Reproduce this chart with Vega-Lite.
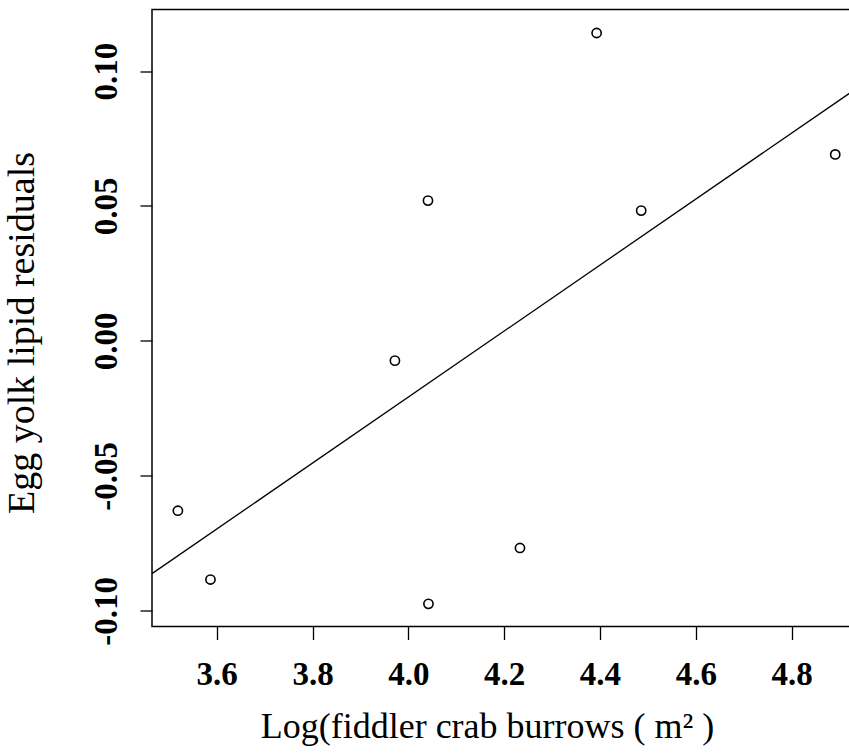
{
  "$schema": "https://vega.github.io/schema/vega-lite/v6.json",
  "autosize": {"type": "none"},
  "padding": {"left": 152, "top": 9.5, "right": 0, "bottom": 126.5},
  "width": 700,
  "height": 617,
  "background": "white",
  "config": {
    "view": {"stroke": "black", "strokeWidth": 1.5},
    "font": "Liberation Serif"
  },
  "datasets": {
    "pts": [
      {"burrows": 3.519, "resid": -0.0629},
      {"burrows": 3.587, "resid": -0.0884},
      {"burrows": 3.972, "resid": -0.0073},
      {"burrows": 4.041, "resid": 0.0520},
      {"burrows": 4.042, "resid": -0.0974},
      {"burrows": 4.233, "resid": -0.0767},
      {"burrows": 4.393, "resid": 0.1141},
      {"burrows": 4.486, "resid": 0.0483},
      {"burrows": 4.891, "resid": 0.0691}
    ],
    "fit": [
      {"burrows": 3.465, "resid": -0.0862},
      {"burrows": 4.926, "resid": 0.0924}
    ]
  },
  "layer": [
    {
      "data": {"name": "fit"},
      "mark": {"type": "line", "color": "black", "strokeWidth": 1.3, "clip": true},
      "encoding": {
        "x": {"field": "burrows", "type": "quantitative"},
        "y": {"field": "resid", "type": "quantitative"}
      }
    },
    {
      "data": {"name": "pts"},
      "mark": {"type": "point", "shape": "circle", "filled": false, "color": "black", "size": 85, "strokeWidth": 1.6, "opacity": 1},
      "encoding": {
        "x": {
          "field": "burrows", "type": "quantitative",
          "scale": {"domain": [3.465, 4.926], "nice": false, "zero": false},
          "axis": {
            "title": "Log(fiddler crab burrows ( m² )",
            "values": [3.6, 3.8, 4.0, 4.2, 4.4, 4.6, 4.8],
            "format": ".1f",
            "grid": false,
            "domain": false,
            "tickColor": "black", "tickSize": 13, "tickWidth": 1.3,
            "labelFont": "Liberation Serif", "labelFontSize": 33, "labelFontWeight": "bold",
            "labelColor": "black", "labelBaseline": "alphabetic", "labelPadding": 45,
            "labelAlign": "center", "labelFlush": false, "labelOverlap": false,
            "titleFont": "Liberation Serif", "titleFontSize": 36, "titleFontWeight": "normal",
            "titleColor": "black", "titleBaseline": "alphabetic", "titleAlign": "center",
            "titleX": 335, "titleY": 110.5
          }
        },
        "y": {
          "field": "resid", "type": "quantitative",
          "scale": {"domain": [-0.1058, 0.1228], "nice": false, "zero": false},
          "axis": {
            "title": "Egg yolk lipid residuals",
            "values": [-0.1, -0.05, 0, 0.05, 0.1],
            "labelExpr": "datum.value < 0 ? '-' + format(-datum.value, '.2f') : format(datum.value, '.2f')",
            "grid": false,
            "domain": false,
            "tickColor": "black", "tickSize": 12, "tickWidth": 1.3,
            "labelFont": "Liberation Serif", "labelFontSize": 33, "labelFontWeight": "bold",
            "labelColor": "black", "labelAngle": -90, "labelAlign": "center",
            "labelBaseline": "alphabetic", "labelPadding": 24, "labelFlush": false, "labelOverlap": false,
            "titleFont": "Liberation Serif", "titleFontSize": 38, "titleFontWeight": "normal",
            "titleColor": "black", "titleAngle": -90, "titleBaseline": "alphabetic", "titleAlign": "center",
            "titleX": -119, "titleY": 323
          }
        }
      }
    }
  ]
}
